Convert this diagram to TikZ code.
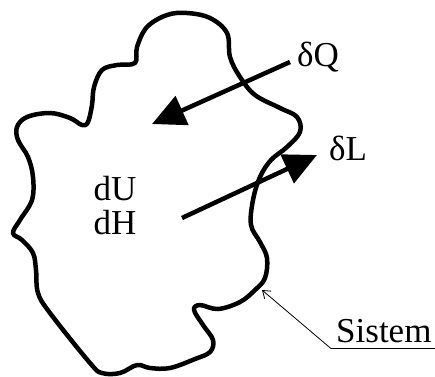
\documentclass[tikz,border=0pt]{standalone}
\usepackage{fontspec}
\setmainfont{Liberation Serif}
\usepackage{tikz}
\usetikzlibrary{positioning, arrows.meta}

\begin{document}
\begin{tikzpicture}[x=1pt, y=-1pt, inner sep=0pt,
    txt/.style={font=\fontsize{35}{40}\selectfont},
    flow/.style={line width=4.5pt, -{Triangle[length=33pt, width=31pt]}},
    pointer/.style={line width=0.8pt, -{Straight Barb[length=7pt, width=10pt]}}]
   \useasboundingbox (0,0) rectangle (435,376);

   % The system boundary
   \draw[line width=4.5pt, line join=round] plot[smooth cycle, tension=0.6] coordinates {
     (167,15) (187,13) (210,18) (227,33) (230,57) (240,77) (255,95) (280,108)
     (297,117) (300,132) (287,147) (271,160) (260,177) (253,200) (251,225)
     (260,242) (267,258) (265,278) (255,290) (240,302) (218,309) (200,305)
     (194,310) (203,325) (213,340) (210,352) (195,359) (170,368) (150,368)
     (137,365) (120,373) (102,373) (90,363) (50,313) (38,293) (36,270)
     (33,253) (22,240) (13,233) (20,220) (32,200) (33,177) (28,157) (18,140)
     (17,127) (27,117) (50,113) (70,118) (82,125) (88,122) (92,105) (94,87)
     (102,70) (117,65) (135,63) (137,47) (147,27)};

   % Labels
   \node[txt] (dU) at (115,189) {dU};
   \node[txt] (dH) [below=8pt of dU] {dH};
   \node[txt, anchor=west] (dQ) at (297,57) {δQ};
   \node[txt, anchor=west] (dL) at (329,148) {δL};
   \node[txt, anchor=base west, inner xsep=5pt, inner ysep=6pt] (sys) at (331,342) {Sistem};

   % Arrow end points
   \coordinate (q0) at (290,62);
   \coordinate (q1) at (152,124);
   \coordinate (l0) at (182,218);
   \coordinate (l1) at (317,155);
   \coordinate (wall) at (262,290);

   % Heat and work
   \draw[flow] (q0) -- (q1);
   \draw[flow] (l0) -- (l1);

   % Pointer to the boundary
   \draw[line width=0.8pt] (sys.south west) -- (sys.south east);
   \draw[pointer] (sys.south west) -- (wall);
\end{tikzpicture}
\end{document}
